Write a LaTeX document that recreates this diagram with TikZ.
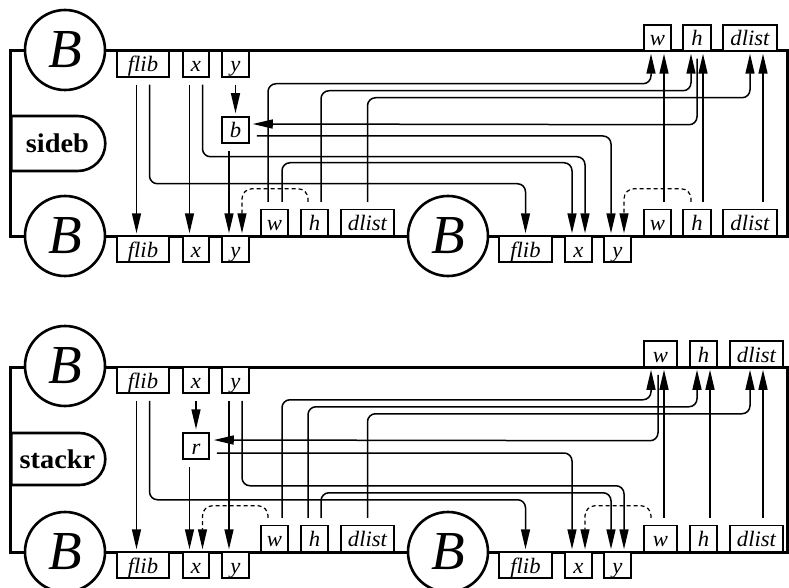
\documentclass[tikz,border=0pt]{standalone}
\usepackage{fontspec}
\setmainfont{Liberation Serif}
\usepackage{graphicx}
\usetikzlibrary{arrows.meta,shapes.misc}
\newcommand\lab[1]{\scalebox{1.03}[1]{\itshape #1}}
\newcommand\cmb[1]{\scalebox{1.05}[1]{#1}}
\begin{document}
\begin{tikzpicture}[x=1pt,y=-1pt,
  rail/.style={line width=3pt},
  lbl/.style={draw,line width=1.5pt,fill=white,inner sep=0pt,minimum height=26pt,text height=21pt,text depth=5pt,font=\fontsize{22}{22}\selectfont},
  bigb/.style={circle,draw,line width=2.6pt,fill=white,minimum size=80pt,inner sep=0pt,font=\fontsize{55}{55}\selectfont\itshape},
  comb/.style={rounded rectangle,rounded rectangle left arc=none,draw,line width=2.6pt,fill=white,inner sep=0pt,minimum width=94pt,anchor=west,font=\fontsize{27}{27}\selectfont\bfseries},
  conn/.style={line width=1.5pt,rounded corners=8pt},
  arr/.style={conn,-{Triangle[length=20pt,width=9pt]},shorten >=2pt},
  dsh/.style={arr,line width=1.2pt,dash pattern=on 4pt off 3pt,rounded corners=10pt},
]
\useasboundingbox (0,0) rectangle (789,588);
% ---------------- top diagram: sideb ----------------
\draw[rail] (10,51) rectangle (787.5,236);
\node[bigb] (TB0) at (65,50) {B};
\node[bigb] (TB1) at (65,236) {B};
\node[bigb] (TB2) at (448,236) {B};
\node[comb,minimum height=55pt] (Tside) at (10,143.5) {\cmb{sideb}};
\node[lbl,minimum width=52pt] (Tflib) at (143,64) {\lab{flib}};
\node[lbl,minimum width=26pt] (Tx) at (196,64) {\lab{x}};
\node[lbl,minimum width=27pt] (Ty) at (235.5,64) {\lab{y}};
\node[lbl,minimum width=27pt] (Tb) at (235.5,130) {\lab{b}};
\node[lbl,minimum width=27pt] (TW) at (657.5,38) {\lab{w}};
\node[lbl,minimum width=28pt] (TH) at (697,38) {\lab{h}};
\node[lbl,minimum width=54pt] (TD) at (750,38) {\lab{dlist}};
\node[lbl,minimum width=27pt] (T1w) at (274.5,222.5) {\lab{w}};
\node[lbl,minimum width=27pt] (T1h) at (314.5,222.5) {\lab{h}};
\node[lbl,minimum width=53pt] (T1d) at (367.5,222.5) {\lab{dlist}};
\node[lbl,minimum width=27pt] (T2w) at (657.5,222.5) {\lab{w}};
\node[lbl,minimum width=28pt] (T2h) at (697,222.5) {\lab{h}};
\node[lbl,minimum width=54pt] (T2d) at (750,222.5) {\lab{dlist}};
\node[lbl,minimum width=52pt] (T1flib) at (143,249) {\lab{flib}};
\node[lbl,minimum width=26pt] (T1x) at (196,249) {\lab{x}};
\node[lbl,minimum width=27pt] (T1y) at (235.5,249) {\lab{y}};
\node[lbl,minimum width=53pt] (T2flib) at (525.5,249) {\lab{flib}};
\node[lbl,minimum width=27pt] (T2x) at (578.5,249) {\lab{x}};
\node[lbl,minimum width=27pt] (T2y) at (617.5,249) {\lab{y}};
% connectors
\draw[arr] ([xshift=-6.5pt,yshift=-7pt]Tflib.south) -- ([xshift=-6.5pt]T1flib.north);
\draw[arr] ([xshift=6.5pt,yshift=-7pt]Tflib.south) -- ++(0,99) -| (T2flib.north);
\draw[arr] ([xshift=-6.5pt,yshift=-7pt]Tx.south) -- ([xshift=-6.5pt]T1x.north);
\draw[arr] ([xshift=6.5pt,yshift=-7pt]Tx.south) -- ++(0,72) -| ([xshift=6.5pt]T2x.north);
\draw[arr,shorten >=3pt] ([yshift=-7pt]Ty.south) -- (Tb.north);
\draw[arr] ([xshift=-6.5pt,yshift=-7pt]Tb.south) -- ([xshift=-6.5pt]T1y.north);
\draw[arr] ([xshift=7pt,yshift=-6pt]Tb.east) -| ([xshift=-6.5pt]T2y.north);
\draw[arr,shorten >=3pt] ([yshift=-7pt]TH.south) -- ++(0,66) -- ([yshift=6pt]Tb.east);
\draw[dsh] ([xshift=-6.5pt,yshift=7pt]T1h.north) -- ++(0,-13) -| ([xshift=6.5pt]T1y.north);
\draw[arr] ([xshift=-6.5pt,yshift=7pt]T1w.north) -- ++(0,-118) -| ([xshift=-6.5pt]TW.south);
\draw[arr] ([xshift=6.5pt,yshift=7pt]T1h.north) -- ++(0,-111) -| ([xshift=-6pt]TH.south);
\draw[arr] ([yshift=7pt]T1d.north) -- ++(0,-104) -| (TD.south);
\draw[arr] ([xshift=7.5pt,yshift=7pt]T1w.north) -- ++(0,-39) -| ([xshift=-6.5pt]T2x.north);
\draw[arr] ([xshift=6.5pt,yshift=7pt]T2w.north) -- ([xshift=6.5pt]TW.south);
\draw[arr] ([xshift=6pt,yshift=7pt]T2h.north) -- ([xshift=6pt]TH.south);
\draw[arr] ([xshift=13pt,yshift=7pt]T2d.north) -- ([xshift=13pt]TD.south);
\draw[dsh] ([xshift=-6pt,yshift=7pt]T2h.north) -- ++(0,-13) -| ([xshift=6.5pt]T2y.north);
% ---------------- bottom diagram: stackr ----------------
\draw[rail] (10,367) rectangle (787.5,552);
\node[bigb] (BB0) at (65,366) {B};
\node[bigb] (BB1) at (65,552) {B};
\node[bigb] (BB2) at (448,552) {B};
\node[comb,minimum height=52pt] (Bstack) at (10,459) {\cmb{stackr}};
\node[lbl,minimum width=52pt] (Bflib) at (143,380) {\lab{flib}};
\node[lbl,minimum width=26pt] (Bx) at (196,380) {\lab{x}};
\node[lbl,minimum width=27pt] (By) at (235.5,380) {\lab{y}};
\node[lbl,minimum width=26pt] (Br) at (196,446) {\lab{r}};
\node[lbl,minimum width=33pt] (BW) at (660.5,354) {\lab{w}};
\node[lbl,minimum width=27pt] (BH) at (703.5,354) {\lab{h}};
\node[lbl,minimum width=53pt] (BD) at (756.5,354) {\lab{dlist}};
\node[lbl,minimum width=27pt] (B1w) at (274.5,538.5) {\lab{w}};
\node[lbl,minimum width=27pt] (B1h) at (314.5,538.5) {\lab{h}};
\node[lbl,minimum width=53pt] (B1d) at (367.5,538.5) {\lab{dlist}};
\node[lbl,minimum width=33pt] (B2w) at (660.5,538.5) {\lab{w}};
\node[lbl,minimum width=27pt] (B2h) at (703.5,538.5) {\lab{h}};
\node[lbl,minimum width=53pt] (B2d) at (756.5,538.5) {\lab{dlist}};
\node[lbl,minimum width=52pt] (B1flib) at (143,565) {\lab{flib}};
\node[lbl,minimum width=26pt] (B1x) at (196,565) {\lab{x}};
\node[lbl,minimum width=27pt] (B1y) at (235.5,565) {\lab{y}};
\node[lbl,minimum width=53pt] (B2flib) at (525.5,565) {\lab{flib}};
\node[lbl,minimum width=27pt] (B2x) at (578.5,565) {\lab{x}};
\node[lbl,minimum width=27pt] (B2y) at (617.5,565) {\lab{y}};
% connectors
\draw[arr] ([xshift=-6.5pt,yshift=-7pt]Bflib.south) -- ([xshift=-6.5pt]B1flib.north);
\draw[arr] ([xshift=6.5pt,yshift=-7pt]Bflib.south) -- ++(0,99) -| (B2flib.north);
\draw[arr,shorten >=3pt] ([yshift=-7pt]Bx.south) -- (Br.north);
\draw[arr] ([xshift=-6.5pt,yshift=-7pt]Br.south) -- ([xshift=-6.5pt]B1x.north);
\draw[arr] ([xshift=-6.5pt,yshift=-7pt]By.south) -- ([xshift=-6.5pt]B1y.north);
\draw[arr] ([xshift=6.5pt,yshift=-7pt]By.south) -- ++(0,85) -| ([xshift=6.5pt]B2y.north);
\draw[arr,shorten >=4pt] ([xshift=-2.5pt,yshift=-7pt]BW.south) -- ++(0,66) -- ([yshift=6pt]Br.east);
\draw[arr] ([xshift=7pt,yshift=-7pt]Br.east) -| ([xshift=-6.5pt]B2x.north);
\draw[dsh] ([xshift=-6.5pt,yshift=7pt]B1w.north) -- ++(0,-12) -| ([xshift=6.5pt]B1x.north);
\draw[arr] ([xshift=7.5pt,yshift=7pt]B1w.north) -- ++(0,-118) -| ([xshift=-9.5pt]BW.south);
\draw[arr] ([xshift=-6.5pt,yshift=7pt]B1h.north) -- ++(0,-111) -| ([xshift=-6.5pt]BH.south);
\draw[arr] ([yshift=7pt]B1d.north) -- ++(0,-104) -| ([xshift=-6.5pt]BD.south);
\draw[arr] ([xshift=6.5pt,yshift=7pt]B1h.north) -- ++(0,-25) -| ([xshift=-6.5pt]B2y.north);
\draw[arr] ([xshift=3.5pt,yshift=7pt]B2w.north) -- ([xshift=3.5pt]BW.south);
\draw[arr] ([xshift=6.5pt,yshift=7pt]B2h.north) -- ([xshift=6.5pt]BH.south);
\draw[arr] ([xshift=6.5pt,yshift=7pt]B2d.north) -- ([xshift=6.5pt]BD.south);
\draw[dsh] ([xshift=-9.5pt,yshift=7pt]B2w.north) -- ++(0,-12) -| ([xshift=6.5pt]B2x.north);
\end{tikzpicture}
\end{document}
